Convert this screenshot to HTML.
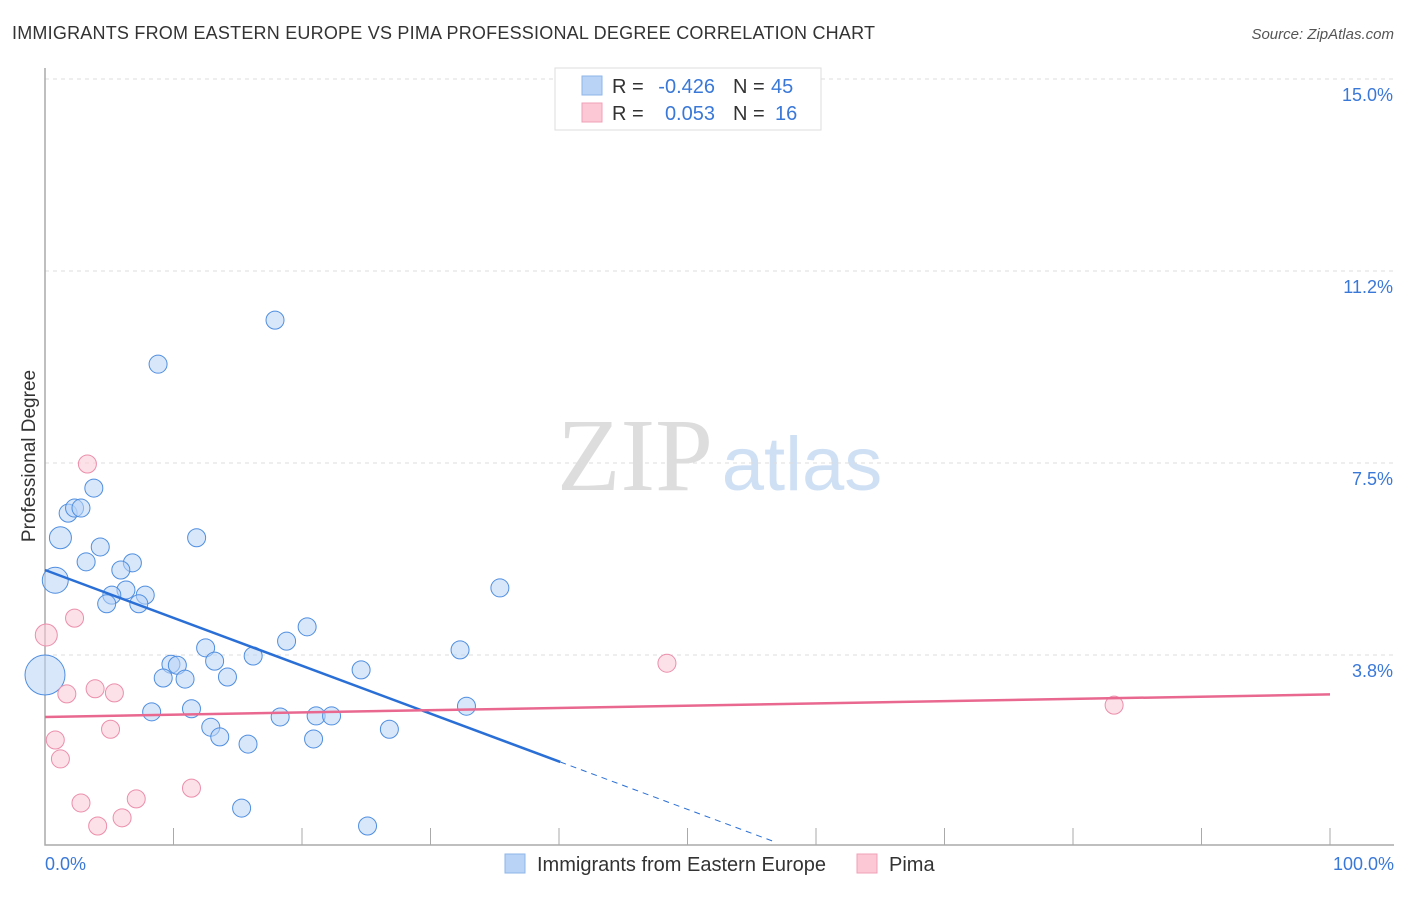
<!DOCTYPE html>
<html><head><meta charset="utf-8"><style>
body{margin:0;background:#fff;font-family:"Liberation Sans",sans-serif}
</style></head><body>
<svg id="c" width="1406" height="892" xmlns="http://www.w3.org/2000/svg" style="font-family:'Liberation Sans',sans-serif">
<text x="12" y="39" font-size="18" fill="#333" textLength="863">IMMIGRANTS FROM EASTERN EUROPE VS PIMA PROFESSIONAL DEGREE CORRELATION CHART</text>
<text x="1394" y="39" font-size="15" fill="#555" font-style="italic" text-anchor="end">Source: ZipAtlas.com</text>
<text x="35" y="456" font-size="19" fill="#333" text-anchor="middle" transform="rotate(-90 35 456)">Professional Degree</text>
<g><text x="635" y="490" font-size="104" fill="#ddd" font-family="Liberation Serif" text-anchor="middle">ZIP</text><text x="802" y="490" font-size="76" fill="#cfe0f5" text-anchor="middle">atlas</text></g>
<g id="grid"></g><g id="axes"></g><g id="marks"></g>
<g font-size="20">
<rect x="555" y="68" width="266" height="62" fill="#fff" stroke="#ddd"/>
<rect x="582" y="76" width="20" height="19" fill="#b8d3f5" stroke="#8fb6ea"/>
<rect x="582" y="103" width="20" height="19" fill="#fcc8d6" stroke="#f0a0b8"/>
<text x="612" y="93" fill="#333">R =</text><text x="715" y="93" fill="#3a78d8" text-anchor="end">-0.426</text>
<text x="733" y="93" fill="#333">N =</text><text x="771" y="93" fill="#3a78d8">45</text>
<text x="612" y="120" fill="#333">R =</text><text x="715" y="120" fill="#3a78d8" text-anchor="end">0.053</text>
<text x="733" y="120" fill="#333">N =</text><text x="775" y="120" fill="#3a78d8">16</text>
</g>
<g>
<rect x="505" y="854" width="20" height="19" fill="#b8d3f5" stroke="#8fb6ea"/>
<text x="537" y="871" font-size="20" fill="#333">Immigrants from Eastern Europe</text>
<rect x="857" y="854" width="20" height="19" fill="#fcc8d6" stroke="#f0a0b8"/>
<text x="889" y="871" font-size="20" fill="#333">Pima</text>
</g>
</svg>
<script>
const yTicks=[3.75,7.5,11.25,15];
const yTickLabels=["3.8%","7.5%","11.2%","15.0%"];
const blueX=[17.9,8.8,3.8,1.8,2.3,2.8,1.2,11.8,4.3,3.2,6.8,5.9,0.8,6.3,7.8,5.2,4.8,7.3,20.4,18.8,35.4,12.5,32.3,9.8,10.3,13.2,16.2,24.6,9.2,10.9,14.2,0,8.3,11.4,18.3,21.1,22.3,32.8,12.9,13.6,26.8,15.8,20.9,15.3,25.1];
const blueY=[10.29,9.43,7.01,6.52,6.62,6.62,6.04,6.04,5.86,5.57,5.55,5.41,5.21,5.02,4.92,4.92,4.75,4.75,4.30,4.02,5.06,3.89,3.85,3.57,3.55,3.63,3.73,3.46,3.30,3.28,3.32,3.36,2.64,2.70,2.54,2.56,2.56,2.75,2.34,2.15,2.30,2.01,2.11,0.76,0.41];
const blueR=[9,9,9,9,9,9,11,9,9,9,9,9,13,9,9,9,9,9,9,9,9,9,9,9,9,9,9,9,9,9,9,20,9,9,9,9,9,9,9,9,9,9,9,9,9];
const pinkX=[3.3,2.3,0.1,1.7,3.9,5.4,5.1,0.8,1.2,48.4,83.2,11.4,7.1,2.8,6.0,4.1];
const pinkY=[7.48,4.47,4.14,2.99,3.09,3.01,2.30,2.09,1.72,3.59,2.77,1.15,0.94,0.86,0.57,0.41];
const pinkR=[9,9,11,9,9,9,9,9,9,9,9,9,9,9,9,9];
const blueTrend=[5.41,-0.0935], pinkTrend=[2.54,0.0044];
const X=v=>45+v*12.85, Y=v=>847-v*51.2;
const NS="http://www.w3.org/2000/svg";
function mk(t,a,p){const e=document.createElementNS(NS,t);for(const k in a)e.setAttribute(k,a[k]);p.appendChild(e);return e;}
const grid=document.getElementById('grid'),axes=document.getElementById('axes'),marks=document.getElementById('marks');
yTicks.forEach((t,i)=>{const l=mk('line',{x1:45,x2:1394,y1:Y(t),y2:Y(t),stroke:'#ddd','stroke-dasharray':'4 4'},grid);


const tx=mk('text',{x:1393,y:Y(t)+22,'font-size':18,fill:'#3a78d8','text-anchor':'end'},axes);tx.textContent=yTickLabels[i];

});
const ax=mk('path',{d:'M45 68V845H1394',fill:'none',stroke:'#aaa','stroke-width':1.5},axes);


for(let i=1;i<=10;i++){const t=mk('line',{x1:X(i*10),x2:X(i*10),y1:828,y2:845,stroke:'#aaa'},axes);

}
[["0.0%",45,'start'],["100.0%",1394,'end']].forEach(a=>{const t=mk('text',{x:a[1],y:870,'font-size':18,fill:'#3a78d8','text-anchor':a[2]},axes);t.textContent=a[0];

});
function pts(xs,ys,rs,fill,stroke,name){xs.forEach((x,i)=>{const c=mk('circle',{cx:X(x),cy:Y(ys[i]),r:rs[i],fill:fill,'fill-opacity':0.55,stroke:stroke,'stroke-width':1},marks);

});}
pts(blueX,blueY,blueR,'#b8d3f5','#4f8ee0','eastern-europe-point');
pts(pinkX,pinkY,pinkR,'#fcc8d6','#eb8eab','pima-point');
const bEnd=40.1, bStop=56.9;
const b1=mk('line',{x1:X(0),y1:Y(blueTrend[0]),x2:X(bEnd),y2:Y(blueTrend[0]+blueTrend[1]*bEnd),stroke:'#2a6fd6','stroke-width':2.5},marks);


const b2=mk('line',{x1:X(bEnd),y1:Y(blueTrend[0]+blueTrend[1]*bEnd),x2:X(bStop),y2:Y(blueTrend[0]+blueTrend[1]*bStop),stroke:'#2a6fd6','stroke-width':1,'stroke-dasharray':'6 5'},marks);


const p1=mk('line',{x1:X(0),y1:Y(pinkTrend[0]),x2:X(100),y2:Y(pinkTrend[0]+pinkTrend[1]*100),stroke:'#e86890','stroke-width':2.5},marks);


</script>
</body></html>
